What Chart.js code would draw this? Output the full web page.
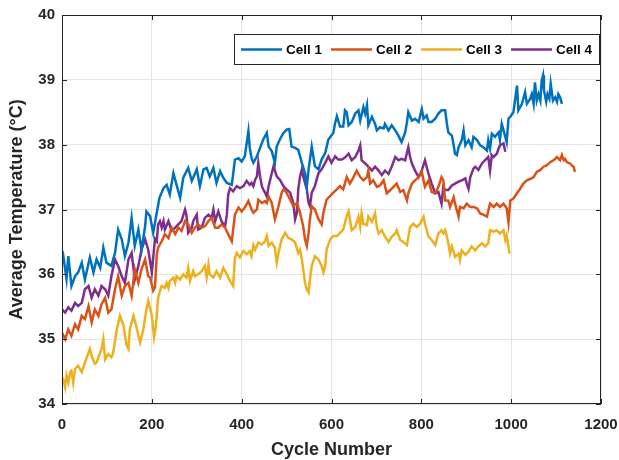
<!DOCTYPE html>
<html>
<head>
<meta charset="utf-8">
<script src="https://cdn.jsdelivr.net/npm/chart.js@4/dist/chart.umd.min.js"></script>
<style>
  body { margin: 0; background: #fff; }
  #wrap { width: 619px; height: 460px; }
</style>
</head>
<body>
<div id="wrap"><canvas id="tempChart" width="619" height="460"></canvas></div>
<script>
// [cycle, average temperature]
var cell1 = [[0,36.2],[3,36.28],[10,35.93],[14,36.28],[21,35.82],[29,35.97],[36,36.03],[44,36.18],[51,35.92],[62,36.26],[70,36.03],[77,36.23],[85,36.1],[92,36.41],[99,36.18],[110,36.13],[118,36.33],[125,36.69],[133,36.54],[140,36.28],[148,36.49],[155,36.87],[162,36.44],[170,36.69],[177,36.38],[185,36.74],[188,36.97],[196,36.9],[203,36.64],[211,36.95],[217,37.18],[226,37.33],[233,37.38],[240,37.23],[248,37.56],[255,37.38],[263,37.18],[270,37.49],[281,37.64],[289,37.44],[300,37.62],[307,37.36],[315,37.62],[322,37.64],[329,37.51],[337,37.64],[344,37.41],[352,37.59],[359,37.49],[367,37.41],[378,37.38],[385,37.77],[393,37.79],[400,37.74],[407,37.82],[415,38.21],[418,37.95],[422,37.79],[426,37.72],[434,37.82],[441,37.95],[448,38.08],[456,38.18],[460,37.97],[467,37.9],[474,37.72],[478,37.97],[485,38.08],[493,38.18],[500,38.23],[506,38.24],[511,37.97],[519,37.95],[526,37.92],[534,37.72],[541,37.56],[545,37.36],[549,37.62],[556,37.97],[563,37.67],[571,37.62],[578,37.77],[586,37.87],[593,38.08],[604,38.18],[608,38.33],[612,38.44],[619,38.28],[626,38.28],[630,38.53],[634,38.5],[638,38.3],[645,38.35],[653,38.48],[660,38.53],[664,38.37],[671,38.58],[675,38.48],[679,38.61],[682,38.3],[690,38.43],[697,38.32],[701,38.22],[708,38.27],[716,38.25],[719,38.32],[727,38.22],[734,38.3],[742,38.22],[749,38.14],[756,38.04],[764,38.19],[768,38.35],[771,38.5],[779,38.37],[786,38.4],[794,38.35],[801,38.55],[805,38.4],[812,38.45],[816,38.35],[823,38.35],[831,38.4],[838,38.48],[845,38.53],[853,38.53],[857,38.32],[860,38.19],[868,38.14],[872,37.99],[875,37.86],[879,37.84],[883,37.96],[890,38.07],[894,38.22],[898,37.99],[905,38.07],[912,37.96],[916,38.12],[924,38.07],[931,37.99],[938,37.96],[946,37.91],[949,38.07],[953,37.94],[957,38.17],[964,38.12],[972,38.19],[975,38.07],[979,38.32],[987,38.12],[990,38.04],[994,38.4],[998,38.43],[1005,38.5],[1013,38.91],[1016,38.53],[1024,38.63],[1031,38.81],[1035,38.63],[1042,38.7],[1046,38.78],[1050,38.63],[1053,38.96],[1057,38.68],[1061,38.78],[1065,38.68],[1068,38.99],[1071,39.07],[1073,38.84],[1078,38.66],[1081,38.78],[1085,38.71],[1088,38.94],[1093,38.68],[1098,38.73],[1102,38.66],[1105,38.78],[1109,38.73],[1113,38.63]];

var cell2 = [[0,35.1],[7,35.0],[14,35.15],[21,35.05],[29,35.23],[36,35.15],[44,35.36],[51,35.31],[59,35.51],[66,35.26],[73,35.46],[81,35.36],[88,35.54],[96,35.64],[103,35.41],[110,35.46],[118,35.77],[125,35.97],[133,35.67],[140,35.82],[148,35.87],[155,35.67],[162,36.08],[170,35.87],[177,36.08],[185,36.23],[192,35.97],[196,35.95],[203,35.75],[207,35.8],[211,36.3],[214,36.41],[222,36.51],[229,36.62],[237,36.56],[244,36.72],[252,36.62],[259,36.72],[266,36.67],[274,36.82],[281,36.77],[289,36.64],[296,36.72],[303,36.77],[311,36.72],[318,36.74],[326,36.82],[333,36.87],[341,36.72],[348,36.72],[355,36.77],[363,36.72],[370,36.62],[378,36.51],[385,36.92],[393,37.03],[400,36.97],[407,37.03],[415,37.13],[422,37.0],[426,36.95],[434,37.0],[437,37.15],[445,37.1],[452,37.13],[456,37.1],[460,37.2],[467,37.1],[474,36.85],[482,37.05],[489,37.26],[493,37.31],[500,37.26],[508,37.15],[515,37.05],[523,37.1],[530,36.95],[537,36.74],[541,36.54],[545,36.44],[549,36.64],[552,36.85],[556,37.05],[563,37.0],[571,36.85],[578,36.77],[582,36.95],[589,37.15],[597,37.21],[604,37.26],[612,37.31],[619,37.36],[626,37.31],[634,37.5],[641,37.4],[649,37.5],[656,37.6],[664,37.5],[671,37.45],[679,37.5],[682,37.6],[686,37.4],[693,37.45],[701,37.35],[708,37.37],[716,37.45],[723,37.25],[731,37.3],[738,37.35],[745,37.4],[753,37.27],[760,37.3],[768,37.14],[771,37.25],[779,37.4],[786,37.45],[794,37.5],[801,37.58],[808,37.35],[816,37.45],[823,37.27],[831,37.25],[838,37.35],[845,37.5],[849,37.45],[853,37.14],[860,37.14],[864,37.04],[872,37.19],[875,37.09],[883,36.89],[886,37.04],[894,37.02],[901,37.09],[909,37.04],[916,37.04],[924,37.02],[931,36.94],[938,36.92],[946,36.89],[953,37.09],[961,37.04],[968,37.09],[975,37.04],[983,37.09],[990,37.02],[994,36.8],[998,37.14],[1005,37.17],[1013,37.25],[1020,37.32],[1027,37.4],[1035,37.45],[1042,37.47],[1050,37.5],[1057,37.58],[1065,37.61],[1072,37.66],[1079,37.68],[1087,37.73],[1094,37.76],[1098,37.78],[1102,37.81],[1109,37.76],[1113,37.84],[1117,37.76],[1120,37.78],[1124,37.73],[1131,37.71],[1135,37.68],[1139,37.66],[1142,37.58]];

var cell3 = [[0,34.41],[3,34.38],[7,34.26],[10,34.44],[14,34.33],[18,34.49],[21,34.51],[25,34.33],[29,34.54],[36,34.59],[44,34.49],[51,34.64],[59,34.79],[62,34.85],[66,34.74],[73,34.62],[77,34.64],[81,34.72],[88,34.85],[92,35.0],[96,34.69],[103,34.77],[110,34.72],[114,34.79],[122,35.15],[129,35.36],[137,35.21],[144,34.9],[148,34.85],[151,35.15],[159,35.36],[166,35.18],[174,34.95],[181,35.15],[188,35.46],[192,35.59],[200,35.36],[205,35.03],[209,35.2],[214,35.64],[218,35.74],[222,35.82],[229,35.79],[233,35.87],[237,35.79],[240,35.9],[248,35.95],[252,35.87],[255,35.97],[263,35.92],[270,36.0],[277,35.95],[281,36.1],[285,35.9],[292,36.05],[296,35.97],[303,36.0],[311,36.05],[318,36.13],[322,35.95],[326,36.15],[329,36.0],[337,35.95],[344,36.05],[352,35.95],[359,36.1],[367,36.0],[374,35.9],[381,35.82],[385,36.26],[389,36.33],[396,36.26],[404,36.36],[411,36.31],[418,36.36],[422,36.28],[426,36.45],[430,36.38],[437,36.49],[445,36.46],[452,36.51],[456,36.59],[460,36.44],[467,36.49],[474,36.41],[478,36.18],[482,36.33],[489,36.54],[497,36.64],[504,36.56],[511,36.54],[519,36.49],[526,36.33],[530,36.38],[534,36.23],[537,36.08],[541,35.87],[545,35.77],[549,35.72],[552,35.92],[556,36.13],[563,36.28],[571,36.23],[578,36.13],[582,36.03],[586,36.13],[589,36.38],[597,36.54],[604,36.59],[612,36.59],[619,36.64],[626,36.69],[634,36.9],[638,36.97],[645,36.68],[653,36.73],[660,36.89],[664,36.73],[667,36.94],[671,36.78],[679,36.76],[682,36.89],[690,36.81],[697,36.94],[701,36.73],[705,36.63],[712,36.68],[719,36.58],[727,36.5],[734,36.58],[742,36.63],[745,36.68],[753,36.53],[760,36.5],[768,36.45],[775,36.73],[782,36.78],[790,36.73],[797,36.78],[805,36.89],[808,36.78],[816,36.58],[823,36.53],[831,36.45],[838,36.63],[845,36.68],[849,36.63],[853,36.68],[857,36.58],[860,36.48],[864,36.32],[868,36.43],[872,36.35],[875,36.27],[883,36.32],[886,36.22],[890,36.37],[898,36.3],[905,36.35],[912,36.43],[920,36.37],[927,36.43],[935,36.48],[942,36.43],[949,36.48],[953,36.68],[961,36.66],[968,36.68],[975,36.63],[983,36.68],[987,36.53],[990,36.6],[994,36.43],[996,36.32]];

var cell4 = [[0,35.46],[7,35.41],[14,35.49],[21,35.44],[29,35.56],[36,35.51],[44,35.56],[51,35.77],[59,35.82],[66,35.64],[73,35.77],[81,35.67],[88,35.82],[96,35.77],[103,35.67],[110,35.97],[118,36.23],[125,36.13],[133,35.97],[140,35.87],[148,36.23],[155,36.33],[162,35.92],[170,36.13],[177,36.38],[185,36.54],[192,36.38],[200,36.03],[207,36.55],[211,36.51],[214,36.77],[218,36.82],[222,36.72],[226,36.82],[229,36.69],[237,36.82],[244,36.67],[252,36.72],[259,36.77],[266,36.82],[274,37.0],[277,36.92],[281,36.64],[289,36.72],[292,36.82],[300,36.92],[303,36.69],[311,36.72],[318,36.87],[326,36.92],[333,36.87],[337,37.0],[341,36.82],[348,36.97],[355,36.82],[363,36.74],[367,36.92],[370,37.23],[374,37.33],[381,37.28],[389,37.36],[396,37.33],[404,37.36],[411,37.44],[418,37.38],[422,37.41],[426,37.36],[430,37.46],[434,37.51],[437,37.72],[441,37.51],[445,37.36],[448,37.31],[452,37.26],[456,37.2],[460,37.36],[467,37.56],[471,37.67],[478,37.51],[485,37.46],[493,37.36],[500,37.31],[508,37.26],[515,37.1],[519,36.85],[523,36.95],[526,37.31],[530,37.51],[534,37.62],[537,37.51],[545,37.31],[549,37.1],[552,37.05],[556,37.26],[563,37.36],[571,37.56],[578,37.62],[586,37.72],[593,37.82],[600,37.72],[608,37.82],[615,37.77],[623,37.77],[630,37.8],[638,37.86],[645,37.76],[653,37.81],[660,37.91],[664,37.99],[667,37.76],[675,37.71],[682,37.66],[690,37.6],[697,37.66],[705,37.6],[712,37.53],[719,37.6],[727,37.55],[734,37.66],[742,37.81],[749,37.76],[756,37.78],[764,37.76],[771,37.96],[775,37.81],[779,37.71],[786,37.6],[794,37.5],[801,37.6],[808,37.76],[816,37.55],[823,37.4],[831,37.25],[838,37.27],[845,37.09],[849,37.35],[853,37.3],[860,37.3],[868,37.37],[875,37.4],[883,37.43],[890,37.45],[898,37.48],[901,37.4],[905,37.32],[909,37.5],[916,37.63],[920,37.66],[927,37.61],[935,37.71],[942,37.76],[949,37.81],[953,37.6],[957,37.84],[961,37.81],[968,37.86],[972,37.94],[975,37.99],[983,38.02],[987,37.89]];

var cellNames = ["Cell 1", "Cell 2", "Cell 3", "Cell 4"];
var cellColors = ["#0072BD", "#D95319", "#EDB120", "#7E2F8E"];
var xTicks = [0, 200, 400, 600, 800, 1000, 1200];
var yTicks = [34, 35, 36, 37, 38, 39, 40];

var FONT = "'Liberation Sans', Arial, Helvetica, sans-serif";
var AXIS = "#262626";

function toPoints(rows) {
  return rows.map(function(r) { return {x: r[0], y: r[1]}; });
}

// matlab style box with inward ticks on all four sides
var axesBox = {
  id: 'axesBox',
  afterDatasetsDraw: function(chart) {
    var ctx = chart.ctx, a = chart.chartArea, sx = chart.scales.x, sy = chart.scales.y;
    ctx.save();
    ctx.strokeStyle = AXIS;
    ctx.lineWidth = 1;
    ctx.beginPath();
    xTicks.forEach(function(v) {
      var px = Math.round(sx.getPixelForValue(v)) + 0.5;
      ctx.moveTo(px, a.bottom); ctx.lineTo(px, a.bottom - 5);
      ctx.moveTo(px, a.top); ctx.lineTo(px, a.top + 5);
    });
    yTicks.forEach(function(v) {
      var py = Math.round(sy.getPixelForValue(v)) + 0.5;
      ctx.moveTo(a.left, py); ctx.lineTo(a.left + 5, py);
      ctx.moveTo(a.right, py); ctx.lineTo(a.right - 5, py);
    });
    ctx.stroke();
    ctx.strokeRect(Math.round(a.left) + 0.5, Math.round(a.top) + 0.5,
      Math.round(a.right - a.left) - 1, Math.round(a.bottom - a.top) - 1);
    ctx.restore();
  }
};

// legend in a framed box at the top right, inside the axes
var boxLegend = {
  id: 'boxLegend',
  afterDraw: function(chart) {
    var ctx = chart.ctx, a = chart.chartArea, sets = chart.data.datasets;
    var lineLen = 41, gapText = 4, gapItem = 9, pad = 7, h = 30;
    ctx.save();
    ctx.font = "bold 13.5px " + FONT;
    var widths = sets.map(function(d) { return ctx.measureText(d.label).width; });
    var total = pad * 2 + sets.length * (lineLen + gapText) + gapItem * (sets.length - 1);
    widths.forEach(function(w) { total += w; });
    var right = Math.round(a.right) - 2, left = Math.round(right - total), top = Math.round(a.top) + 19;
    ctx.fillStyle = "#fff";
    ctx.fillRect(left, top, right - left, h);
    ctx.strokeStyle = AXIS;
    ctx.lineWidth = 1;
    ctx.strokeRect(left + 0.5, top + 0.5, right - left, h);
    var cy = top + h / 2 + 0.5;
    var x = left + pad;
    sets.forEach(function(d, i) {
      ctx.strokeStyle = d.borderColor;
      ctx.lineWidth = 2.5;
      ctx.beginPath();
      ctx.moveTo(x, cy); ctx.lineTo(x + lineLen, cy);
      ctx.stroke();
      x += lineLen + gapText;
      ctx.fillStyle = "#000";
      ctx.textBaseline = "middle";
      ctx.textAlign = "left";
      ctx.fillText(d.label, x, cy + 1);
      x += widths[i] + gapItem;
    });
    ctx.restore();
  }
};

var ctx = document.getElementById("tempChart").getContext("2d");
var myChart = new Chart(ctx, {
  type: 'line',
  data: {
    datasets: [cell1, cell2, cell3, cell4].map(function(rows, i) {
      return {
        label: cellNames[i],
        data: toPoints(rows),
        borderColor: cellColors[i],
        backgroundColor: cellColors[i],
        borderWidth: 2.5,
        pointRadius: 0,
        tension: 0,
        fill: false
      };
    })
  },
  options: {
    responsive: false,
    animation: false,
    devicePixelRatio: 1,
    layout: { padding: { top: 15, right: 18, left: 0, bottom: 0 } },
    plugins: {
      legend: { display: false },
      tooltip: { enabled: false }
    },
    scales: {
      x: {
        type: 'linear',
        min: 0,
        max: 1200,
        afterBuildTicks: function(s) { s.ticks = xTicks.map(function(v) { return {value: v}; }); },
        afterFit: function(s) {
          s.height = 56;
          s.paddingLeft = 0;
          s.paddingRight = 0;
        },
        ticks: {
          color: AXIS,
          padding: 12,
          font: { family: FONT, size: 15, weight: 'bold' },
          callback: function(v) { return String(v); }
        },
        grid: { color: '#e4e4e4', drawTicks: false },
        border: { display: false },
        title: {
          display: true,
          text: 'Cycle Number',
          color: AXIS,
          padding: { top: 0, bottom: -1 },
          font: { family: FONT, size: 18, weight: 'bold' }
        }
      },
      y: {
        min: 34,
        max: 40,
        afterBuildTicks: function(s) { s.ticks = yTicks.map(function(v) { return {value: v}; }); },
        afterFit: function(s) {
          s.width = 62;
          s.paddingTop = 0;
          s.paddingBottom = 0;
        },
        ticks: {
          color: AXIS,
          padding: 7,
          font: { family: FONT, size: 15, weight: 'bold' },
          callback: function(v) { return String(v); }
        },
        grid: { color: '#e4e4e4', drawTicks: false },
        border: { display: false },
        title: {
          display: true,
          text: 'Average Temperature (°C)',
          color: AXIS,
          padding: { top: 6, bottom: 0 },
          font: { family: FONT, size: 18, weight: 'bold' }
        }
      }
    }
  },
  plugins: [axesBox, boxLegend]
});
</script>
</body>
</html>
